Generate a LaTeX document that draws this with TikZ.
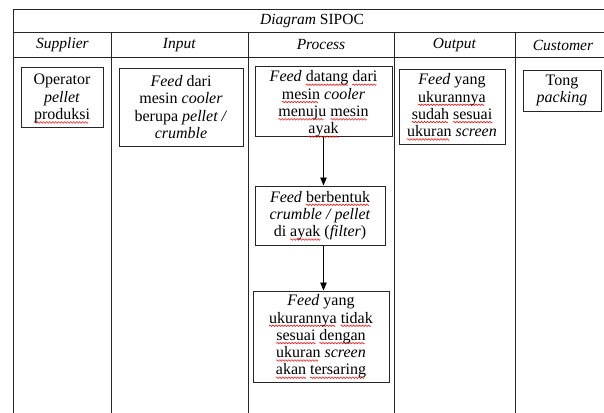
\documentclass[tikz,border=0pt]{standalone}
\usepackage{fontspec}
\setmainfont{Liberation Serif}
\usetikzlibrary{arrows.meta}
\newsavebox{\sqbox}
\newlength{\sqlen}
\newcommand{\wavepiece}{\tikz[x=1pt,y=1pt,baseline=0pt]{\useasboundingbox (0,0) rectangle (3,0); \draw[red,line width=0.5pt] (0,0) sin (0.75,0.8) cos (1.5,0) sin (2.25,-0.8) cos (3,0);}}
\newcommand{\sq}[1]{\sbox{\sqbox}{#1}\setlength{\sqlen}{\wd\sqbox}\leavevmode\rlap{\raisebox{-2.8pt}{\leaders\hbox{\wavepiece}\hskip\sqlen}}\usebox{\sqbox}}
\begin{document}
\begin{tikzpicture}[x=1pt,y=-1pt,
  tline/.style={draw=black!85,line width=0.9pt},
  card/.style={draw=black!85,line width=1pt,align=center,inner sep=0pt,font=\fontsize{16}{17.3}\selectfont},
  ctext/.style={align=center,inner sep=0pt,font=\fontsize{16}{17.3}\selectfont},
  hdr/.style={font=\fontsize{15.5}{17}\selectfont},
  flow/.style={-{Triangle[length=8pt,width=6.5pt]},line width=0.9pt,draw=black}]
\clip (0,0) rectangle (604,412);
\fill[white] (0,0) rectangle (604,412);
% table grid
\draw[tline] (13.3,420) -- (13.3,9.3) -- (611,9.3) -- (611,420);
\draw[tline] (13.3,32.7) -- (611,32.7);
\draw[tline] (13.3,57.3) -- (611,57.3);
\foreach \x in {111,248,394,515} \draw[tline] (\x,32.7) -- (\x,420);
% headers
\node[hdr] (title) at (312,21) {\textit{Diagram} SIPOC};
\node[hdr] (hs) at (62.5,45) {\textit{Supplier}};
\node[hdr] (hi) at (179.5,45) {\textit{Input}};
\node[hdr] (hp) at (321,45) {\textit{Process}};
\node[hdr] (ho) at (454.5,45) {\textit{Output}};
\node[hdr] (hc) at (563,45) {\textit{Customer}};
% boxes
\node[card,minimum width=82pt,minimum height=60pt] (op) at (62,97)
  {\rule{0pt}{14pt}Operator\\\textit{pellet}\\\sq{produksi}};
\node[card,minimum width=124pt,minimum height=78pt] (in) at (181,107)
  {\textit{Feed} dari\\mesin \textit{cooler}\\berupa \textit{pellet /}\\\textit{crumble}};
\node[card,minimum width=137pt,minimum height=70pt] (p1) at (323.5,101) {};
\node[ctext] (p1t) at (323.5,104) 
  {\textit{Feed} \sq{datang} \sq{dari}\\\sq{mesin} \textit{cooler}\\\sq{menuju} \sq{mesin}\\\sq{ayak}};
\node[card,minimum width=130pt,minimum height=59pt] (p2) at (320,215.5)
  {\textit{Feed} \sq{berbentuk}\\\textit{crumble / pellet}\\di \sq{ayak} (\textit{filter})};
\node[card,minimum width=136pt,minimum height=91pt] (p3) at (321,336.5)
  {\textit{Feed} yang\\\sq{ukurannya} \sq{tidak}\\\sq{sesuai} \sq{dengan}\\\sq{ukuran} \textit{screen}\\\sq{akan} \sq{tersaring}};
\node[card,minimum width=106pt,minimum height=75pt] (out) at (452,106.5)
  {\textit{Feed} yang\\\sq{ukurannya}\\\sq{sudah} \sq{sesuai}\\\sq{ukuran} \textit{screen}};
\node[card,minimum width=78pt,minimum height=41pt] (cu) at (562,90.5)
  {Tong\\\textit{packing}};
% arrows
\draw[flow] (p1.south) -- (p1.south |- p2.north);
\draw[flow] (p2.south -| p1.south) -- (p3.north -| p1.south);
\end{tikzpicture}
\end{document}
